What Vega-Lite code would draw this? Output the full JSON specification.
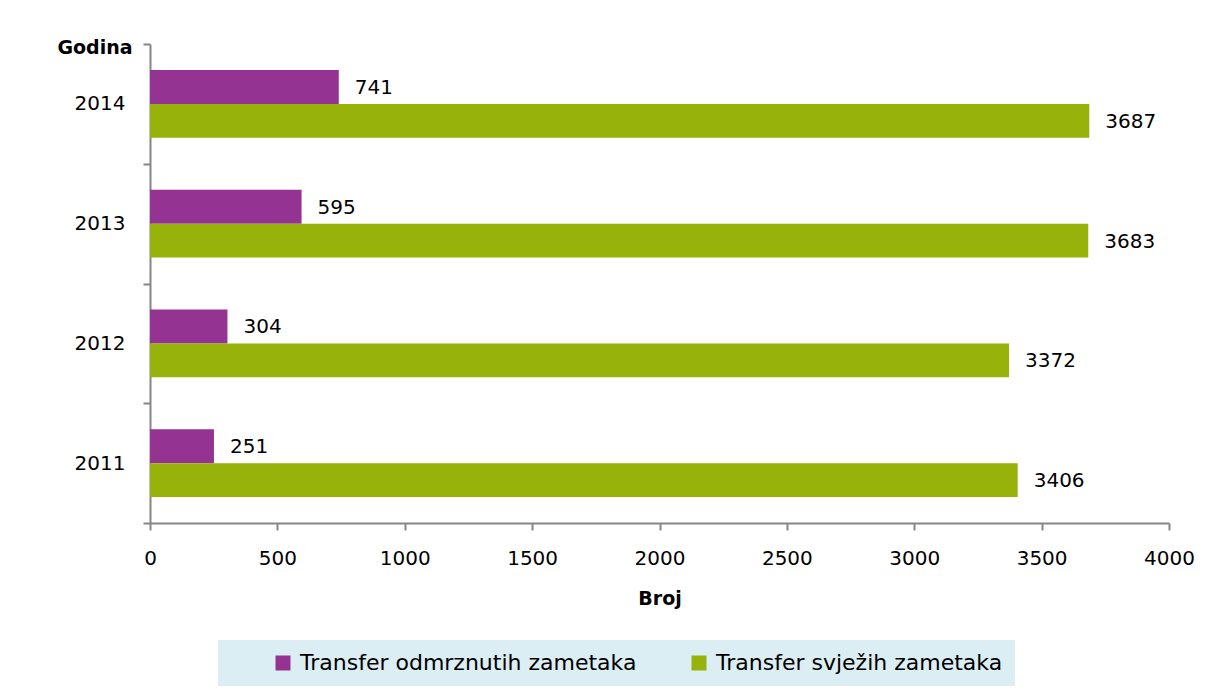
{
  "$schema": "https://vega.github.io/schema/vega-lite/v6.json",
  "width": 1019,
  "height": 479,
  "autosize": "none",
  "padding": {"left": 150, "top": 44, "right": 52, "bottom": 174},
  "background": "white",
  "config": {
    "view": {"stroke": null},
    "font": "DejaVu Sans",
    "axis": {
      "grid": false,
      "domainColor": "#868686",
      "domainWidth": 2,
      "tickColor": "#868686",
      "tickWidth": 2,
      "tickSize": 7,
      "labelFont": "DejaVu Sans",
      "labelFontSize": 20,
      "labelColor": "#000000",
      "titleFont": "DejaVu Sans",
      "titleFontSize": 19,
      "titleColor": "#000000",
      "titleFontWeight": "bold"
    }
  },
  "data": {
    "values": [
      {"year": "2014", "series": "Transfer odmrznutih zametaka", "value": 741},
      {"year": "2014", "series": "Transfer svježih zametaka", "value": 3687},
      {"year": "2013", "series": "Transfer odmrznutih zametaka", "value": 595},
      {"year": "2013", "series": "Transfer svježih zametaka", "value": 3683},
      {"year": "2012", "series": "Transfer odmrznutih zametaka", "value": 304},
      {"year": "2012", "series": "Transfer svježih zametaka", "value": 3372},
      {"year": "2011", "series": "Transfer odmrznutih zametaka", "value": 251},
      {"year": "2011", "series": "Transfer svježih zametaka", "value": 3406}
    ]
  },
  "encoding": {
    "y": {
      "field": "year",
      "type": "nominal",
      "sort": "descending",
      "scale": {"paddingInner": 0, "paddingOuter": 0},
      "axis": {
        "title": "Godina",
        "titleAngle": 0,
        "titleAlign": "right",
        "titleBaseline": "middle",
        "titleX": -18,
        "titleY": 3,
        "tickBand": "extent",
        "labelPadding": 18
      }
    },
    "yOffset": {
      "field": "series",
      "type": "nominal",
      "scale": {"paddingInner": 0, "paddingOuter": 0.765}
    },
    "x": {
      "field": "value",
      "type": "quantitative",
      "scale": {"domain": [0, 4000]},
      "axis": {
        "values": [0, 500, 1000, 1500, 2000, 2500, 3000, 3500, 4000],
        "format": "d",
        "title": "Broj",
        "labelPadding": 18,
        "titlePadding": 21,
        "labelFlush": false
      }
    }
  },
  "layer": [
    {
      "mark": {"type": "bar"},
      "encoding": {
        "color": {
          "field": "series",
          "type": "nominal",
          "scale": {
            "domain": ["Transfer odmrznutih zametaka", "Transfer svježih zametaka"],
            "range": ["#943392", "#96B20B"]
          },
          "legend": {
            "title": null,
            "orient": "none",
            "legendX": 68,
            "legendY": 596,
            "direction": "horizontal",
            "fillColor": "#DBEEF4",
            "padding": 12,
            "symbolType": "square",
            "symbolSize": 225,
            "symbolOffset": 42,
            "symbolStrokeWidth": 0,
            "columnPadding": 9,
            "labelOffset": 6,
            "labelFont": "DejaVu Sans",
            "labelFontSize": 22,
            "labelColor": "#000000",
            "labelLimit": 500
          }
        }
      }
    },
    {
      "mark": {"type": "text", "align": "left", "baseline": "middle", "dx": 16, "dy": 1, "fontSize": 20, "font": "DejaVu Sans", "color": "#000000"},
      "encoding": {
        "text": {"field": "value", "type": "quantitative"}
      }
    }
  ]
}
